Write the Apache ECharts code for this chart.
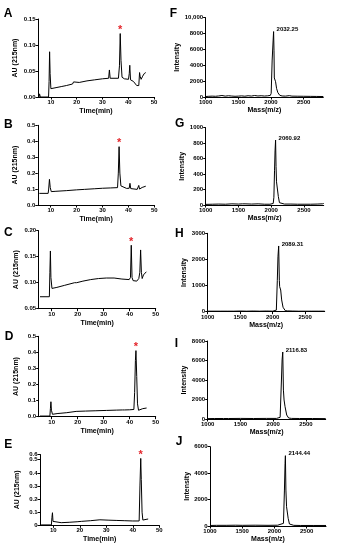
<!DOCTYPE html>
<html><head><meta charset="utf-8">
<script src="https://cdn.jsdelivr.net/npm/echarts@6/dist/echarts.min.js"></script>
<style>html,body{margin:0;padding:0;background:#fff}#c{width:338px;height:550px}</style>
</head><body><div id="c"></div>
<script>
// ---------- HPLC chromatograms (Time, min ; AU at 215 nm) ----------
const timeA = [5.4, 5.6, 5.9, 9.1, 9.3, 9.5, 9.7, 10.0, 10.5, 12, 14, 16, 18.4, 18.8, 19.2, 21, 24, 27, 30, 32.4, 32.7, 33.0, 33.4, 36.2, 36.6, 36.9, 37.2, 37.6, 38.5, 40.1, 40.4, 40.6, 40.9, 42.0, 43.3, 44.1, 44.4, 44.6, 45.0, 45.6, 46.2, 46.8];
const auA = [0.000, 0.006, 0.000, 0.000, 0.030, 0.087, 0.045, 0.016, 0.016, 0.018, 0.020, 0.022, 0.025, 0.029, 0.026, 0.028, 0.031, 0.033, 0.035, 0.036, 0.052, 0.036, 0.036, 0.036, 0.060, 0.122, 0.070, 0.038, 0.035, 0.034, 0.045, 0.061, 0.033, 0.030, 0.022, 0.022, 0.047, 0.040, 0.034, 0.040, 0.045, 0.047];

const timeB = [5.6, 9.0, 9.2, 9.5, 9.8, 10.2, 12, 16, 20, 23, 27, 30, 33, 35.8, 36.1, 36.4, 36.7, 37.1, 37.7, 39.3, 40.3, 40.6, 40.9, 43.4, 43.7, 44.0, 44.3, 45.3, 46.7];
const auB = [0.073, 0.073, 0.100, 0.161, 0.110, 0.084, 0.086, 0.090, 0.095, 0.098, 0.102, 0.105, 0.107, 0.109, 0.200, 0.366, 0.200, 0.120, 0.108, 0.104, 0.105, 0.136, 0.103, 0.098, 0.100, 0.123, 0.100, 0.110, 0.118];

const timeC = [5.5, 9.1, 9.3, 9.5, 9.7, 10.1, 12, 15, 18.8, 19.2, 19.6, 22, 25, 28, 31, 34, 37, 39.8, 40.3, 40.6, 40.9, 41.3, 42.0, 42.7, 43.5, 43.9, 44.2, 44.5, 44.8, 45.3, 45.8, 46.4];
const auC = [0.073, 0.073, 0.120, 0.161, 0.110, 0.089, 0.091, 0.095, 0.100, 0.103, 0.100, 0.103, 0.106, 0.108, 0.109, 0.109, 0.107, 0.106, 0.110, 0.172, 0.110, 0.104, 0.102, 0.103, 0.108, 0.120, 0.163, 0.120, 0.108, 0.115, 0.113, 0.121];

const timeD = [5.5, 9.3, 9.5, 9.7, 9.9, 10.3, 12.4, 12.8, 13.2, 15.8, 19.4, 23, 27, 31, 35, 37.2, 37.6, 38.0, 40, 41.6, 41.9, 42.2, 42.4, 42.7, 43.0, 43.4, 44.0, 45.0, 46.5];
const auD = [0.004, 0.004, 0.050, 0.093, 0.040, 0.015, 0.020, 0.032, 0.021, 0.025, 0.033, 0.035, 0.037, 0.039, 0.041, 0.042, 0.048, 0.042, 0.043, 0.045, 0.150, 0.350, 0.411, 0.250, 0.080, 0.040, 0.041, 0.050, 0.054];

const timeE = [5.4, 9.3, 9.5, 9.7, 9.9, 10.3, 13, 16, 19, 20.6, 20.9, 21.2, 24, 27.6, 31, 34, 37, 40, 42.4, 42.7, 43.0, 43.2, 43.5, 43.8, 44.2, 45.0, 45.8];
const auE = [0.003, 0.003, 0.060, 0.096, 0.030, 0.017, 0.020, 0.023, 0.027, 0.030, 0.045, 0.030, 0.035, 0.042, 0.039, 0.037, 0.035, 0.033, 0.033, 0.300, 0.510, 0.350, 0.100, 0.040, 0.040, 0.045, 0.048];

// ---------- MALDI mass spectra (Mass m/z ; Intensity) ----------
const massF = [1000, 1050, 1100, 1128, 1150, 1200, 1250, 1300, 1350, 1400, 1450, 1500, 1550, 1600, 1650, 1700, 1750, 1800, 1850, 1900, 1950, 1990, 2003, 2018, 2033, 2040, 2046, 2051, 2060, 2070, 2085, 2105, 2135, 2170, 2220, 2280, 2320, 2400, 2500, 2600, 2700, 2800];
const intF = [60, 90, 110, 300, 90, 130, 190, 110, 160, 120, 90, 110, 140, 100, 160, 120, 190, 130, 160, 120, 150, 200, 460, 4660, 7180, 8250, 5900, 2400, 2480, 1930, 1090, 550, 210, 130, 110, 170, 110, 100, 90, 80, 70, 60];

const massG = [1000, 1100, 1200, 1300, 1400, 1500, 1560, 1580, 1600, 1700, 1800, 1900, 1980, 2030, 2040, 2050, 2058, 2066, 2073, 2080, 2088, 2096, 2108, 2125, 2150, 2200, 2300, 2400, 2500, 2600, 2700, 2780, 2800];
const intG = [8, 10, 12, 10, 15, 12, 15, 30, 15, 12, 15, 10, 10, 20, 100, 450, 700, 840, 500, 300, 315, 280, 110, 30, 15, 12, 12, 10, 10, 10, 12, 15, 20];

const massH = [1000, 1200, 1210, 1220, 1300, 1310, 1320, 1400, 1500, 1600, 1700, 1800, 1900, 2000, 2056, 2071, 2081, 2092, 2102, 2107, 2123, 2138, 2159, 2193, 2230, 2300, 2400, 2500, 2600, 2700, 2800];
const intH = [20, 20, 60, 20, 20, 50, 20, 20, 25, 20, 25, 20, 25, 20, 60, 1200, 2100, 2515, 1200, 960, 830, 450, 170, 40, 30, 25, 20, 20, 20, 20, 20];

const massI = [1000, 1100, 1240, 1250, 1260, 1320, 1330, 1340, 1500, 1700, 1900, 2050, 2105, 2125, 2135, 2145, 2155, 2165, 2180, 2205, 2235, 2280, 2400, 2600, 2800];
const intI = [40, 50, 50, 120, 50, 50, 100, 50, 60, 50, 60, 60, 170, 4000, 6060, 6870, 2960, 1950, 1260, 410, 100, 60, 50, 50, 40];

const massJ = [1000, 1100, 1250, 1260, 1270, 1400, 1500, 1700, 1900, 2050, 2140, 2155, 2165, 2170, 2178, 2188, 2198, 2213, 2233, 2260, 2300, 2400, 2600, 2800];
const intJ = [40, 50, 50, 100, 50, 60, 50, 60, 50, 60, 200, 2720, 4740, 5320, 2720, 1460, 1335, 580, 150, 50, 50, 40, 40, 40];

// ---------- labels / ticks ----------
const peakLabels = ['2032.25', '2060.92', '2089.31', '2116.83', '2144.44'];
const panelLetters = ['A', 'B', 'C', 'D', 'E', 'F', 'G', 'H', 'I', 'J'];
const timeRange = [5, 50];
const timeTicks = [10, 20, 30, 40, 50];
const timeTickLabels = ['10', '20', '30', '40', '50'];
const massRange = [1000, 2800];
const massTicks = [1000, 1500, 2000, 2500];
const massTickLabels = ['1000', '1500', '2000', '2500'];

const yTicksA = [0, 0.05, 0.10, 0.15];          const yLabelsA = ['0.00', '0.05', '0.10', '0.15'];
const yTicksB = [0, 0.1, 0.2, 0.3, 0.4, 0.5];   const yLabelsB = ['0.0', '0.1', '0.2', '0.3', '0.4', '0.5'];
const yTicksC = [0.05, 0.10, 0.15, 0.20];       const yLabelsC = ['0.05', '0.10', '0.15', '0.20'];
const yTicksD = [0, 0.1, 0.2, 0.3, 0.4, 0.5];   const yLabelsD = ['0.0', '0.1', '0.2', '0.3', '0.4', '0.5'];
const yTicksE = [0, 0.1, 0.2, 0.3, 0.4, 0.5];   const yLabelsE = ['0', '0.1', '0.2', '0.3', '0.4', '0.5'];
const yTopTickE = [0.54];                        const yTopLabelE = ['0.6'];   // squeezed top tick of panel E
const yTicksF = [0, 2000, 4000, 6000, 8000, 10000]; const yLabelsF = ['0', '2000', '4000', '6000', '8000', '10,000'];
const yTicksG = [0, 200, 400, 600, 800, 1000];  const yLabelsG = ['0', '200', '400', '600', '800', '1000'];
const yTicksH = [0, 1000, 2000, 3000];          const yLabelsH = ['0', '1000', '2000', '3000'];
const yTicksI = [0, 2000, 4000, 6000, 8000];    const yLabelsI = ['0', '2000', '4000', '6000', '8000'];
const yTicksJ = [0, 2000, 4000, 6000];          const yLabelsJ = ['0', '2000', '4000', '6000'];

// ---------- layout (pixels) ----------
const gridsL = [[38, 19, 116, 78], [37.8, 125.3, 116.5, 79.7], [38.7, 230.7, 117, 78], [38.7, 336.3, 117, 80.4], [40, 454.5, 119.3, 70.8]];
const gridsR = [[205.6, 17.7, 117.7, 79.3], [205.7, 127.7, 118, 77.3], [207.7, 233.3, 117, 78.4], [207.7, 341, 118, 78], [210, 446.7, 116, 79.3]];
const letterPos = [[8, 14], [8.3, 125], [8.3, 233], [9, 336.7], [8.3, 444.5], [173.3, 14], [179.7, 124], [179.3, 233.3], [176.3, 343.3], [179, 441.5]];

const FONT = 'Liberation Sans';
const left = [
  {x: timeA, y: auA, t: yTicksA, l: yLabelsA, max: 0.15},
  {x: timeB, y: auB, t: yTicksB, l: yLabelsB, max: 0.5},
  {x: timeC, y: auC, t: yTicksC, l: yLabelsC, max: 0.20},
  {x: timeD, y: auD, t: yTicksD, l: yLabelsD, max: 0.5},
  {x: timeE, y: auE, t: yTicksE, l: yLabelsE, max: yTopTickE[0], extraT: yTopTickE, extraL: yTopLabelE}
];
const right = [
  {x: massF, y: intF, t: yTicksF, l: yLabelsF},
  {x: massG, y: intG, t: yTicksG, l: yLabelsG},
  {x: massH, y: intH, t: yTicksH, l: yLabelsH},
  {x: massI, y: intI, t: yTicksI, l: yLabelsI},
  {x: massJ, y: intJ, t: yTicksJ, l: yLabelsJ}
];

function fmt(ticks, labels) {
  return function (v) {
    for (let i = 0; i < ticks.length; i++) {
      if (Math.abs(ticks[i] - v) <= 1e-6 * Math.max(1, Math.abs(v))) return labels[i];
    }
    return '';
  };
}
function axis(gi, range, ticks, labels, name, gap, isY) {
  const a = {
    gridIndex: gi, type: 'value', min: range[0], max: range[1],
    name: name, nameLocation: 'middle', nameGap: gap, nameRotate: isY ? 90 : 0,
    nameTextStyle: {fontSize: 7, fontWeight: 'bold', fontFamily: FONT, color: '#000'},
    axisLine: {show: true, onZero: false, lineStyle: {color: '#000', width: 1}},
    axisTick: {show: true, length: 2.5, customValues: ticks, lineStyle: {color: '#000', width: 1}},
    axisLabel: {show: true, customValues: ticks, formatter: fmt(ticks, labels), showMinLabel: true, showMaxLabel: true, hideOverlap: false,
      fontSize: 6, fontWeight: 'bold', fontFamily: FONT, color: '#000', margin: 2.5},
    splitLine: {show: false}
  };
  a.position = isY ? 'left' : 'bottom';
  a.offset = 0;
  return a;
}

const option = {animation: false, backgroundColor: '#fff', grid: [], xAxis: [], yAxis: [], series: [], graphic: []};
const extraAxes = [];

left.forEach(function (p, k) {
  const g = gridsL[k];
  option.grid.push({left: g[0], top: g[1], width: g[2], height: g[3], containLabel: false});
  option.xAxis.push(axis(k, timeRange, timeTicks, timeTickLabels, 'Time(min)', 10.5, false));
  option.yAxis.push(axis(k, [p.t[0], p.max], p.t, p.l, 'AU (215nm)', 19, true));
  if (p.extraT) {
    const ex = axis(k, [p.t[0], p.max], p.extraT, p.extraL, '', 0, true);
    ex.axisLine.show = false;
    extraAxes.push(ex);
  }
  option.series.push({
    type: 'line', xAxisIndex: k, yAxisIndex: k, symbol: 'none', showSymbol: false,
    data: p.x.map(function (x, i) { return [x, p.y[i]]; }),
    lineStyle: {color: '#000', width: 1},
    markPoint: {
      symbol: 'circle', symbolSize: 0, silent: true, itemStyle: {color: 'rgba(0,0,0,0)'},
      data: [{type: 'max', valueDim: 'y'}],
      label: {show: true, formatter: '*', position: 'top', distance: -2, color: '#e4252b', fontSize: 11, fontWeight: 'bold', fontFamily: FONT}
    }
  });
});

right.forEach(function (p, k) {
  const gi = k + 5;
  const g = gridsR[k];
  option.grid.push({left: g[0], top: g[1], width: g[2], height: g[3], containLabel: false});
  option.xAxis.push(axis(gi, massRange, massTicks, massTickLabels, 'Mass(m/z)', 10, false));
  option.yAxis.push(axis(gi, [p.t[0], p.t[p.t.length - 1]], p.t, p.l, 'Intensity', 17, true));
  option.series.push({
    type: 'line', xAxisIndex: gi, yAxisIndex: gi, symbol: 'none', showSymbol: false,
    data: p.x.map(function (x, i) { return [x, p.y[i]]; }),
    lineStyle: {color: '#000', width: 1},
    markPoint: {
      symbol: 'circle', symbolSize: 0, silent: true, itemStyle: {color: 'rgba(0,0,0,0)'},
      data: [{type: 'max', valueDim: 'y'}],
      label: {show: true, formatter: peakLabels[k], position: 'right', distance: 3, offset: [0, -2], color: '#000', fontSize: 6, fontWeight: 'bold', fontFamily: FONT}
    }
  });
});
extraAxes.forEach(function (ax) { option.yAxis.push(ax); });

panelLetters.forEach(function (L, i) {
  option.graphic.push({
    type: 'text', x: letterPos[i][0], y: letterPos[i][1], silent: true,
    style: {text: L, fontSize: 12, fontWeight: 'bold', fontFamily: FONT, fill: '#000', textAlign: 'center', textVerticalAlign: 'middle'}
  });
});

const chart = echarts.init(document.getElementById('c'), null, {renderer: 'canvas'});
chart.setOption(option);
</script>
</body></html>
